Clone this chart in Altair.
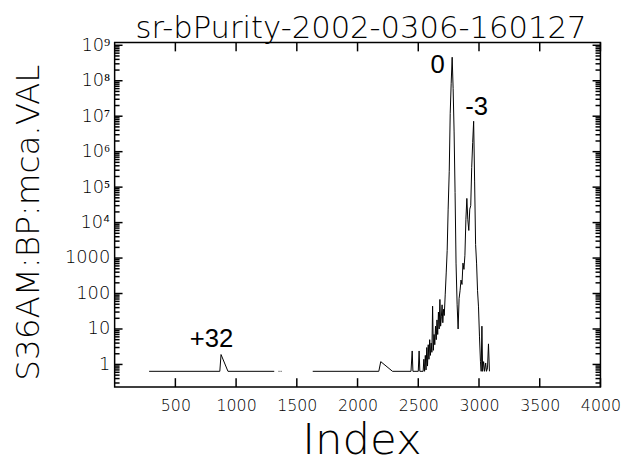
import altair as alt
import pandas as pd

# ---- data ----
seg_a_idx = [284, 866, 876, 933, 1314]
seg_a_val = [0.64, 0.64, 1.9, 0.64, 0.64]
seg_b_idx = [1350, 1357]
seg_b_val = [0.64, 0.64]
seg_c_idx = [1367, 1374]
seg_c_val = [0.64, 0.64]
seg_d_idx = [1631, 2175, 2191, 2288, 2440, 2450, 2456, 2500, 2507, 2513,
             2540, 2546, 2552, 2558, 2564, 2570, 2576, 2582, 2588, 2594,
             2600, 2606, 2612, 2618, 2624, 2630, 2636, 2642, 2648, 2654,
             2660, 2666, 2672, 2678, 2684, 2690, 2696, 2702, 2708, 2714,
             2722, 2730, 2738, 2746, 2755, 2763, 2771, 2779, 2787, 2795,
             2803, 2811, 2820, 2828, 2836, 2844, 2852, 2860, 2868, 2876,
             2884, 2892, 2900, 2908, 2916, 2924, 2932, 2940, 2948, 2956,
             2964, 2972, 2980, 2988, 2996, 3004, 3012, 3018, 3024, 3030,
             3038, 3046, 3055, 3062, 3070, 3078, 3086]
seg_d_val = [0.64, 0.64, 1.2, 0.64, 0.64, 2.4, 0.64, 0.64, 2.4, 0.64,
             0.64, 1.4, 0.64, 1.8, 0.7, 3.0, 0.9, 3.6, 1.4, 5,
             1.8, 4, 2.2, 44, 2.5, 7, 3.6, 12, 5, 18,
             7, 30, 10, 68, 12, 22, 48, 15, 36, 24,
             96, 380, 1650, 2.4e4, 2.8e5, 1.2e7, 8.5e7, 4.6e8, 6e7, 3.6e6,
             7e4, 720, 48, 10, 72, 120, 240, 180, 720, 480,
             1200, 1.2e4, 4.8e4, 1.2e4, 6e3, 2.4e4, 3e4, 3.6e5, 1.8e6, 7.2e6,
             1.4e5, 2.4e3, 720, 120, 42, 6, 1.2, 0.64, 12, 0.64,
             1.2, 0.64, 1.1, 0.64, 0.8, 3.8, 0.64]

ann_text = ["0", "-3", "+32"]
ann_idx = [2660, 2980, 797]
ann_val = [2.8e8, 1.75e7, 5.3]

x_ticks = [500, 1000, 1500, 2000, 2500, 3000, 3500, 4000]
y_major = [1, 10, 100, 1000, 1e4, 1e5, 1e6, 1e7, 1e8, 1e9]
y_minor = [m * 10.0 ** k for k in range(-1, 9) for m in range(2, 10)
           if 0.23 <= m * 10.0 ** k <= 1.2e9]

title_text = "sr-bPurity-2002-0306-160127"
y_title = "S36AM:BP:mca.VAL"
x_title = "Index"

assert len(seg_d_idx) == len(seg_d_val)

rows = []
for name, xs, ys in [("a", seg_a_idx, seg_a_val), ("b", seg_b_idx, seg_b_val),
                     ("c", seg_c_idx, seg_c_val), ("d", seg_d_idx, seg_d_val)]:
    for i, v in zip(xs, ys):
        rows.append({"idx": i, "val": v, "seg": name})
df = pd.DataFrame(rows)
ann = pd.DataFrame({"t": ann_text, "idx": ann_idx, "val": ann_val})
xt_df = pd.DataFrame({"v": x_ticks})
ymaj_df = pd.DataFrame({"v": y_major})
ymin_df = pd.DataFrame({"v": y_minor})

W, H = 492, 349
FONT = "DejaVu Sans"
xscale = alt.Scale(domain=[0, 4000], nice=False, zero=False)
yscale = alt.Scale(type="log", domain=[0.23, 1.2e9], nice=False)

sup = "['\u2070','\u00b9','\u00b2','\u00b3','\u2074','\u2075','\u2076','\u2077','\u2078','\u2079']"
ylabel_expr = ("datum.value < 10000 ? format(datum.value, 'd') : '10' + "
               + sup + "[round(log(datum.value) / LN10)]")

ax_bottom = alt.Axis(orient="bottom", values=x_ticks, format="d",
                     ticks=False, domain=False, grid=False, labelPadding=11,
                     labelFontSize=16, labelFont=FONT, labelFontWeight=300,
                     labelColor="black", labelFlush=False, labelOverlap=False,
                     title=x_title, titleFont=FONT, titleFontSize=44,
                     titleFontWeight=200, titleColor="black",
                     titleX=250, titleY=67, titleBaseline="alphabetic",
                     titleAlign="center")
ax_top = alt.Axis(orient="top", values=x_ticks, ticks=False, domain=False,
                  grid=False, labels=False,
                  title=title_text, titleFont=FONT, titleFontSize=31,
                  titleFontWeight=200, titleColor="black",
                  titleX=249, titleY=-5, titleBaseline="alphabetic",
                  titleAlign="center")
ax_left = alt.Axis(orient="left", values=y_major, ticks=False, domain=False,
                   grid=False, labelPadding=5, labelFontSize=18,
                   labelFont=FONT, labelFontWeight=300, labelColor="black",
                   labelExpr=ylabel_expr, labelFlush=False, labelOverlap=False,
                   title=y_title, titleFont=FONT, titleFontSize=33,
                   titleFontWeight=200, titleColor="black",
                   titleX=-87, titleY=182, titleAngle=270,
                   titleBaseline="middle", titleAlign="center")

line = alt.Chart(df).mark_line(color="black", strokeWidth=1).encode(
    x=alt.X("idx:Q", scale=xscale, axis=ax_bottom),
    y=alt.Y("val:Q", scale=yscale, axis=ax_left),
    detail="seg:N",
)
top_axis_holder = alt.Chart(df).mark_line(color="black", strokeOpacity=0).encode(
    x=alt.X("idx:Q", scale=xscale, axis=ax_top),
    y=alt.Y("val:Q", scale=yscale, axis=None),
    detail="seg:N",
)

TW = 1.5
def yrule(data, x0, x1):
    return alt.Chart(data).mark_rule(color="black", strokeWidth=TW).encode(
        y=alt.Y("v:Q", scale=yscale, axis=None),
        x=alt.value(x0), x2=alt.value(x1))

def xrule(data, y0, y1):
    return alt.Chart(data).mark_rule(color="black", strokeWidth=TW).encode(
        x=alt.X("v:Q", scale=xscale, axis=None),
        y=alt.value(y0), y2=alt.value(y1))

ticks = [
    yrule(ymaj_df, 0, 8), yrule(ymin_df, 0, 5),
    yrule(ymaj_df, W, W - 8), yrule(ymin_df, W, W - 5),
    xrule(xt_df, H, H - 9), xrule(xt_df, 0, 9),
]

labels = alt.Chart(ann).mark_text(font="Liberation Sans", fontSize=26,
                                  color="black", align="center",
                                  baseline="middle").encode(
    x=alt.X("idx:Q", scale=xscale, axis=None),
    y=alt.Y("val:Q", scale=yscale, axis=None),
    text="t:N",
)

chart = alt.layer(line, top_axis_holder, *ticks, labels).resolve_axis(
    x="independent", y="independent"
).properties(
    width=W,
    height=H,
    padding={"left": 108, "top": 32, "right": 36, "bottom": 76},
    autosize=alt.AutoSizeParams(type="none"),
    background="white",
).configure_view(stroke="black", strokeWidth=1.5)

chart.save("out.html", embed_options={"renderer": "svg", "actions": False})
